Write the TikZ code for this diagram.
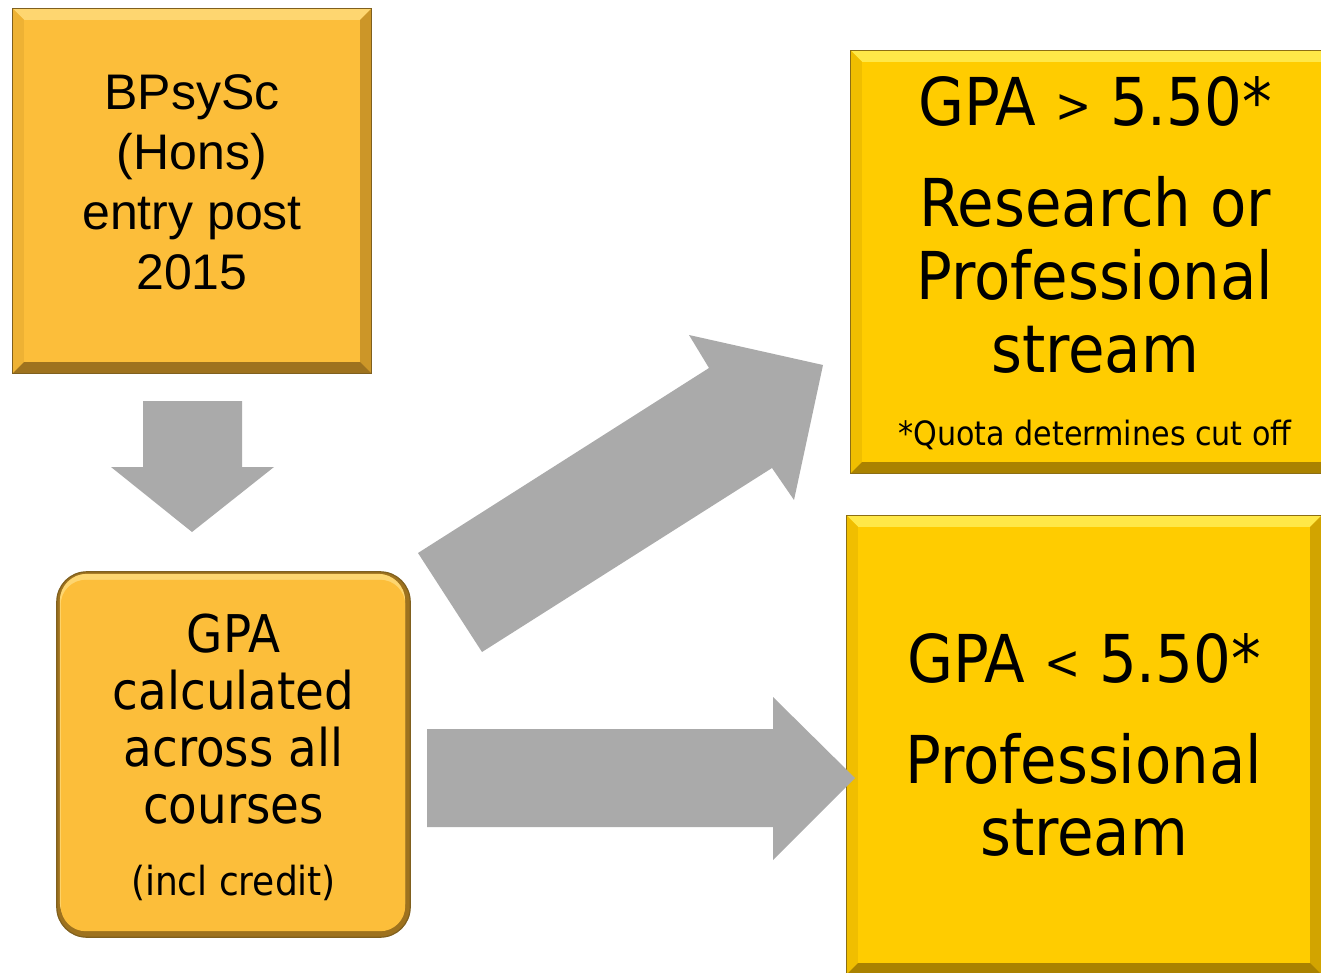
\documentclass[tikz,border=0pt]{standalone}
\usepackage{fontspec}
\setmainfont{Liberation Sans}
\newfontfamily\streamfont{DejaVu Sans Condensed}
\usetikzlibrary{backgrounds}

\definecolor{entryface}{RGB}{252,190,58}
\definecolor{entrylight}{RGB}{254,214,112}
\definecolor{entryside}{RGB}{238,178,52}
\definecolor{entryshade}{RGB}{204,150,40}
\definecolor{entrydark}{RGB}{158,114,30}
\definecolor{entryline}{RGB}{128,96,30}
\definecolor{streamface}{RGB}{255,204,0}
\definecolor{streamlight}{RGB}{255,232,72}
\definecolor{streamside}{RGB}{240,190,0}
\definecolor{streamshade}{RGB}{210,164,0}
\definecolor{streamdark}{RGB}{170,130,0}
\definecolor{streamline}{RGB}{140,110,20}
\definecolor{arrowgray}{RGB}{170,170,170}

\tikzset{
  flatbox/.style={inner sep=0pt, align=center, text=black},
  blockarrow/.style={fill=arrowgray, draw=none},
}

% bevelled edges of a square box: #1 node, #2 colour prefix
\newcommand{\bevelbox}[2]{%
  \fill[#2light] (#1.north west) -- (#1.north east) -- ([shift={(-11,11)}]#1.north east) -- ([shift={(11,11)}]#1.north west) -- cycle;
  \fill[#2side] (#1.north west) -- ([shift={(11,11)}]#1.north west) -- ([shift={(11,-11)}]#1.south west) -- (#1.south west) -- cycle;
  \fill[#2shade] (#1.north east) -- ([shift={(-11,11)}]#1.north east) -- ([shift={(-11,-11)}]#1.south east) -- (#1.south east) -- cycle;
  \fill[#2dark] (#1.south west) -- ([shift={(11,-11)}]#1.south west) -- ([shift={(-11,-11)}]#1.south east) -- (#1.south east) -- cycle;
  \draw[#2line, line width=1.2pt] (#1.north west) rectangle (#1.south east);
}
% small comparison sign
\newcommand{\cmpsign}[1]{\raisebox{3pt}{\fontsize{48}{48}\selectfont #1}}

\begin{document}
\begin{tikzpicture}[x=1pt, y=-1pt]
    \useasboundingbox (0,0) rectangle (1321,973);
    \clip (0,0) rectangle (1321,973);

    % entry box
    \node[flatbox, fill=entryface, minimum width=358pt, minimum height=364pt, text depth=18pt,
          font=\fontsize{50}{60}\selectfont] (entry) at (192,191)
          {BPsySc\\(Hons)\\entry post\\2015};
    \bevelbox{entry}{entry}

    % gpa box
    \node[flatbox, minimum width=353pt, minimum height=365pt, text depth=0pt,
          font=\streamfont\fontsize{52}{57}\selectfont] (gpa) at (233.5,754.5)
          {GPA\\calculated\\across all\\courses\\[15pt]{\fontsize{40}{46}\selectfont (incl credit)}};
    \begin{scope}[on background layer]
      \fill[entrydark, rounded corners=30pt] (gpa.north west) rectangle (gpa.south east);
      \fill[entrylight, rounded corners=27pt] ([shift={(3,2)}]gpa.north west) rectangle ([shift={(-5,-8)}]gpa.south east);
      \fill[entryface, rounded corners=25pt] ([shift={(4,8)}]gpa.north west) rectangle ([shift={(-5,-6)}]gpa.south east);
      \draw[entryline, line width=1.2pt, rounded corners=30pt] (gpa.north west) rectangle (gpa.south east);
    \end{scope}

    % stream boxes
    \node[flatbox, fill=streamface, minimum width=488pt, minimum height=422pt, text depth=2pt,
          font=\streamfont\fontsize{66}{73}\selectfont] (high) at (1095,262)
          {GPA \cmpsign{>} 5.50*\\[28pt]Research or\\Professional\\stream\\{\fontsize{33.5}{40}\selectfont *Quota determines cut off}};
    \bevelbox{high}{stream}

    \node[flatbox, fill=streamface, minimum width=474pt, minimum height=458pt,
          font=\streamfont\fontsize{66}{72}\selectfont] (low) at (1084,745)
          {GPA \cmpsign{<} 5.50*\\[29pt]Professional\\stream};
    \bevelbox{low}{stream}

    % Draw block arrows
    \fill[blockarrow] (143,401) -- (242,401) -- (242,467) -- (274,467) -- (192,532) -- (111,467) -- (143,467) -- cycle;
    \fill[blockarrow] (418,553) -- (709,368) -- (689,335) -- (823,365) -- (794,500) -- (772,468) -- (482,652) -- cycle;
    \fill[blockarrow] (427,729) -- (773,729) -- (773,697) -- (855,778) -- (773,860) -- (773,827) -- (427,827) -- cycle;
\end{tikzpicture}
\end{document}
